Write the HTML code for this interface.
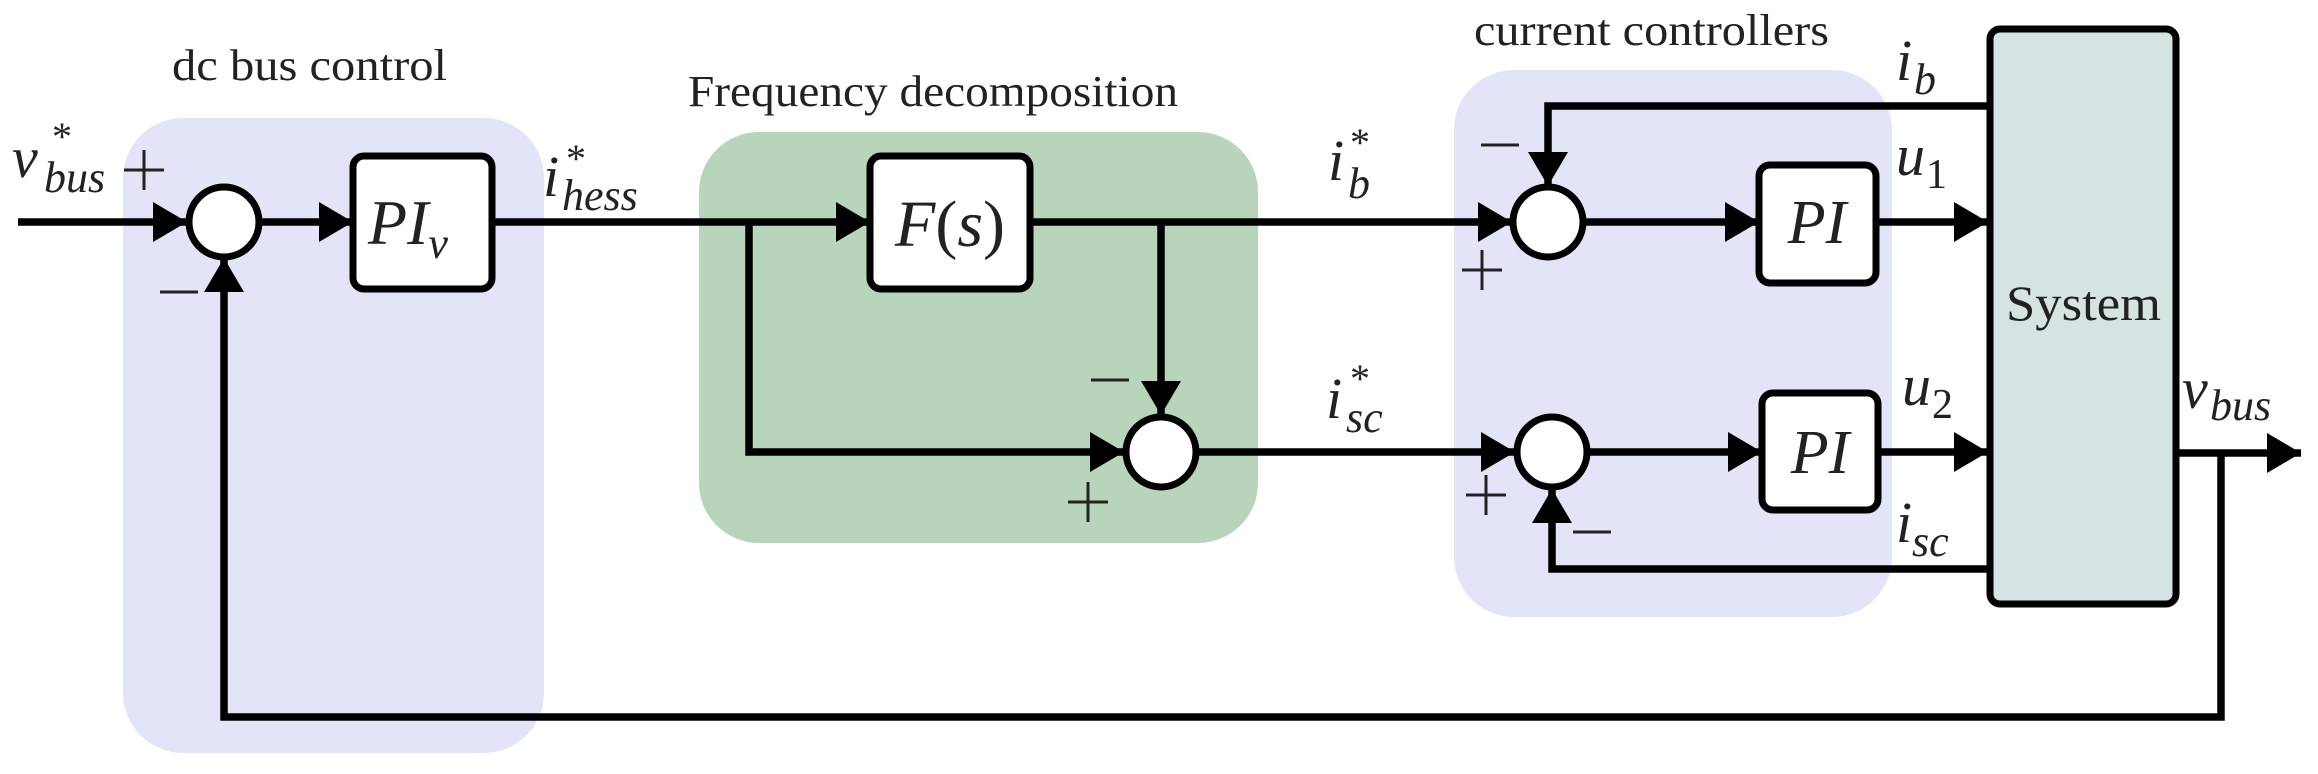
<!DOCTYPE html>
<html><head><meta charset="utf-8"><style>
html,body{margin:0;padding:0;background:#fff;}
svg{display:block;}
text{font-family:"Liberation Serif","DejaVu Serif",serif;fill:#222;}
.m{font-style:italic;}
</style></head><body>
<svg width="2318" height="774" viewBox="0 0 2318 774" xmlns="http://www.w3.org/2000/svg">
<defs>
<marker id="a" markerWidth="34" markerHeight="40" refX="34" refY="20" orient="auto" markerUnits="userSpaceOnUse">
<path d="M0,0 L34,20 L0,40 Z" fill="#000"/>
</marker>
</defs>
<rect x="123" y="118" width="421" height="635" rx="60" fill="#e3e4f8"/>
<rect x="699" y="132" width="559" height="411" rx="60" fill="#b8d5bb"/>
<rect x="1454" y="70" width="438" height="547" rx="60" fill="#e3e4f8"/>
<rect x="1990" y="29" width="186" height="575" rx="10" fill="#d5e3e3" stroke="#000" stroke-width="7"/>

<g stroke="#000" stroke-width="7.5" fill="none">
<line x1="18" y1="222" x2="187" y2="222" marker-end="url(#a)"/>
<line x1="261" y1="222" x2="353" y2="222" marker-end="url(#a)"/>
<line x1="492" y1="222" x2="870" y2="222" marker-end="url(#a)"/>
<polyline points="749,222 749,452 1124,452" marker-end="url(#a)"/>
<line x1="1030" y1="222" x2="1512" y2="222" marker-end="url(#a)"/>
<line x1="1161" y1="222" x2="1161" y2="415" marker-end="url(#a)"/>
<line x1="1198" y1="452" x2="1515" y2="452" marker-end="url(#a)"/>
<line x1="1585" y1="222" x2="1759" y2="222" marker-end="url(#a)"/>
<line x1="1876" y1="222" x2="1988" y2="222" marker-end="url(#a)"/>
<line x1="1589" y1="452" x2="1762" y2="452" marker-end="url(#a)"/>
<line x1="1878" y1="452" x2="1988" y2="452" marker-end="url(#a)"/>
<polyline points="1990,106 1548,106 1548,186" marker-end="url(#a)"/>
<polyline points="1990,569 1552,569 1552,489" marker-end="url(#a)"/>
<line x1="2176" y1="453" x2="2301" y2="453" marker-end="url(#a)"/>
<polyline points="2221,453 2221,717 224,717 224,258" marker-end="url(#a)"/>
</g>

<g fill="#fff" stroke="#000" stroke-width="7">
<circle cx="224" cy="222" r="35"/>
<circle cx="1161" cy="452" r="35"/>
<circle cx="1548" cy="222" r="35"/>
<circle cx="1552" cy="452" r="35"/>
<rect x="353" y="156" width="139" height="133" rx="11"/>
<rect x="870" y="156" width="160" height="133" rx="11"/>
<rect x="1759" y="165" width="117" height="118" rx="11"/>
<rect x="1762" y="393" width="116" height="117" rx="11"/>
</g>

<text x="172" y="80" font-size="44" textLength="275" lengthAdjust="spacingAndGlyphs">dc bus control</text>
<text x="688" y="106" font-size="44" textLength="490" lengthAdjust="spacingAndGlyphs">Frequency decomposition</text>
<text x="1474" y="45" font-size="44" textLength="355" lengthAdjust="spacingAndGlyphs">current controllers</text>
<text x="2006" y="320" font-size="50" textLength="155" lengthAdjust="spacingAndGlyphs">System</text>

<text x="368" y="244" font-size="64" class="m">PI<tspan font-size="44" dy="14">v</tspan></text>
<text x="950" y="246" font-size="66" class="m" text-anchor="middle">F<tspan font-style="normal">(</tspan>s<tspan font-style="normal">)</tspan></text>
<text x="1817" y="243" font-size="62" class="m" text-anchor="middle">PI</text>
<text x="1820" y="473" font-size="62" class="m" text-anchor="middle">PI</text>

<g font-size="58" class="m">
<text x="12" y="177">v</text><text x="52" y="150" font-size="40" font-style="normal">*</text><text x="44" y="192" font-size="44">bus</text>
<text x="543" y="196">i</text><text x="566" y="172" font-size="40" font-style="normal">*</text><text x="562" y="210" font-size="44">hess</text>
<text x="1328" y="180">i</text><text x="1350" y="156" font-size="40" font-style="normal">*</text><text x="1348" y="198" font-size="44">b</text>
<text x="1326" y="418">i</text><text x="1350" y="392" font-size="40" font-style="normal">*</text><text x="1346" y="432" font-size="44">sc</text>
<text x="1896" y="80">i</text><text x="1914" y="94" font-size="44">b</text>
<text x="1896" y="175">u</text><text x="1926" y="188" font-size="42" font-style="normal">1</text>
<text x="1902" y="405">u</text><text x="1932" y="418" font-size="42" font-style="normal">2</text>
<text x="1896" y="542">i</text><text x="1912" y="556" font-size="44">sc</text>
<text x="2182" y="408">v</text><text x="2210" y="420" font-size="44">bus</text>
</g>

<g stroke="#222" stroke-width="3">
<line x1="124" y1="170" x2="164" y2="170"/><line x1="144" y1="150" x2="144" y2="190"/>
<line x1="160" y1="292" x2="198" y2="292"/>
<line x1="1091" y1="380" x2="1129" y2="380"/>
<line x1="1068" y1="502" x2="1108" y2="502"/><line x1="1088" y1="482" x2="1088" y2="522"/>
<line x1="1481" y1="145" x2="1519" y2="145"/>
<line x1="1462" y1="270" x2="1502" y2="270"/><line x1="1482" y1="250" x2="1482" y2="290"/>
<line x1="1466" y1="495" x2="1506" y2="495"/><line x1="1486" y1="475" x2="1486" y2="515"/>
<line x1="1573" y1="532" x2="1611" y2="532"/>
</g>
</svg>
</body></html>
